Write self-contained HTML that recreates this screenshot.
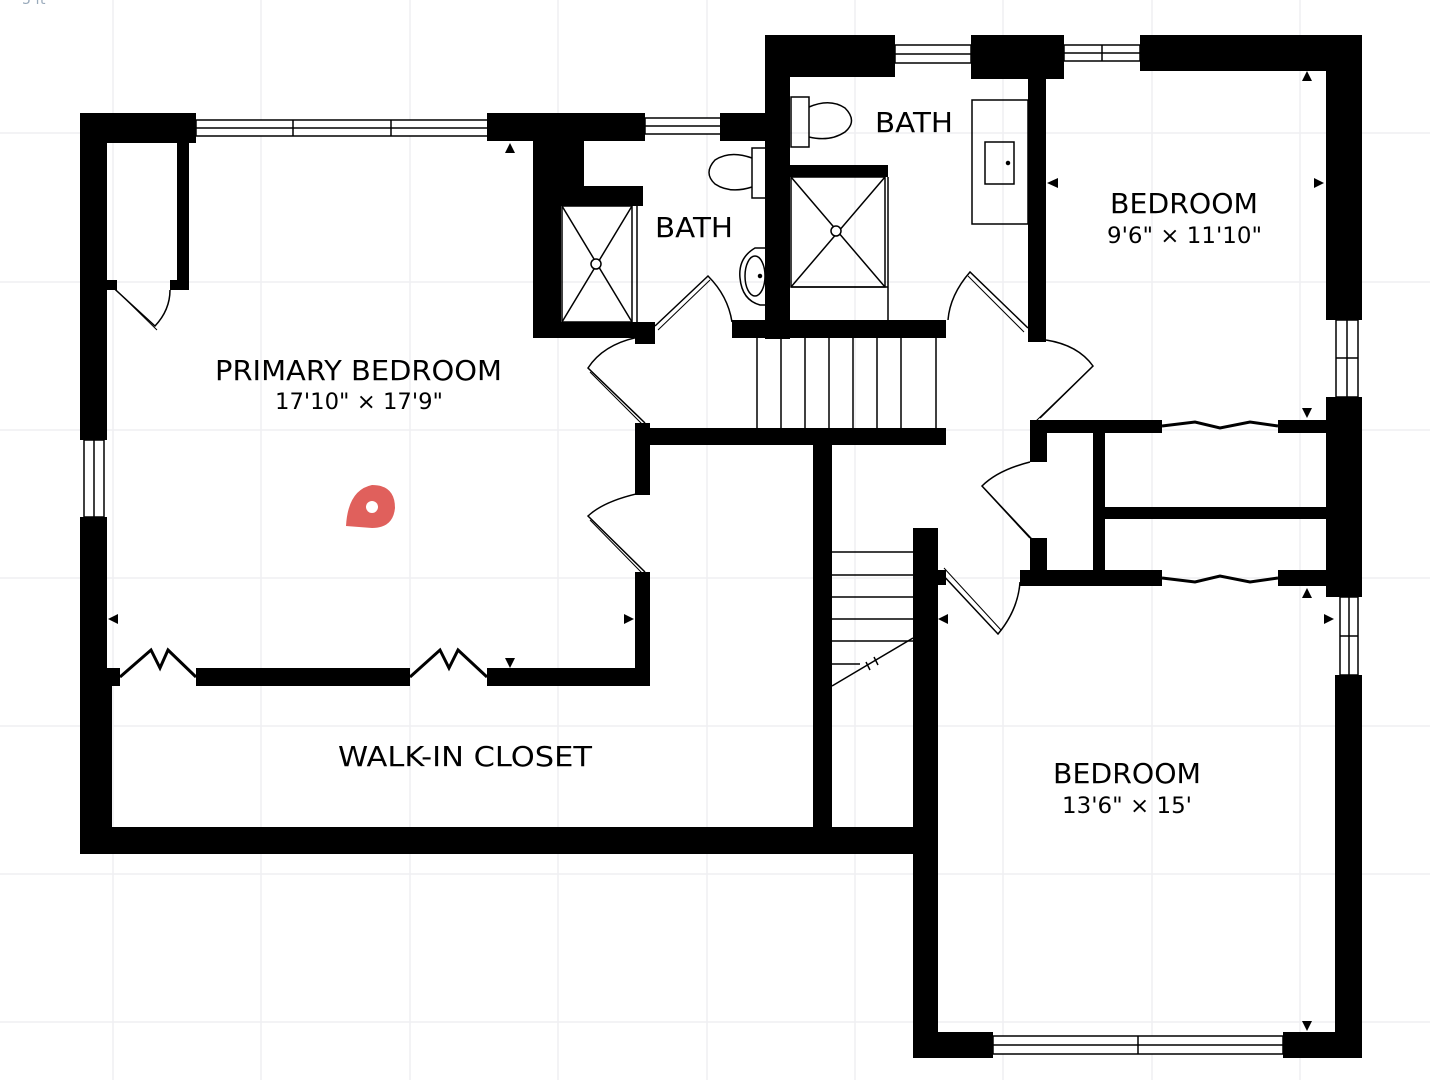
<!DOCTYPE html>
<html><head><meta charset="utf-8"><style>
html,body{margin:0;padding:0;background:#fff;}
svg{display:block;}
text{font-family:"DejaVu Sans","Liberation Sans",sans-serif;fill:#000;}
</style></head><body>
<svg width="1430" height="1080" viewBox="0 0 1430 1080" xmlns="http://www.w3.org/2000/svg">
<g stroke="#efeff2" stroke-width="1.5">
<line x1="113" y1="0" x2="113" y2="1080"/><line x1="261" y1="0" x2="261" y2="1080"/><line x1="410" y1="0" x2="410" y2="1080"/><line x1="558" y1="0" x2="558" y2="1080"/><line x1="707" y1="0" x2="707" y2="1080"/><line x1="855" y1="0" x2="855" y2="1080"/><line x1="1003" y1="0" x2="1003" y2="1080"/><line x1="1152" y1="0" x2="1152" y2="1080"/><line x1="1300" y1="0" x2="1300" y2="1080"/>
<line x1="0" y1="133" x2="1430" y2="133"/><line x1="0" y1="282" x2="1430" y2="282"/><line x1="0" y1="430" x2="1430" y2="430"/><line x1="0" y1="578" x2="1430" y2="578"/><line x1="0" y1="726" x2="1430" y2="726"/><line x1="0" y1="874" x2="1430" y2="874"/><line x1="0" y1="1022" x2="1430" y2="1022"/>
</g>
<text x="22" y="4" font-size="14" style="fill:#9ab">5 ft</text>
<g stroke="#000" stroke-width="1.5" fill="#fff">
<rect x="196" y="120" width="292" height="16"/><line x1="196" y1="128" x2="488" y2="128"/><line x1="293" y1="120" x2="293" y2="136"/><line x1="391" y1="120" x2="391" y2="136"/>
<rect x="645" y="118" width="76" height="16"/><line x1="645" y1="126" x2="721" y2="126"/>
<rect x="895" y="45" width="76" height="18"/><line x1="895" y1="54" x2="971" y2="54"/>
<rect x="1064" y="45" width="76" height="16"/><line x1="1064" y1="53" x2="1140" y2="53"/><line x1="1102" y1="45" x2="1102" y2="61"/>
<rect x="84" y="440" width="20" height="77"/><line x1="94" y1="440" x2="94" y2="517"/>
<rect x="1336" y="320" width="22" height="77"/><line x1="1347" y1="320" x2="1347" y2="397"/><line x1="1336" y1="358" x2="1358" y2="358"/>
<rect x="1340" y="597" width="18" height="78"/><line x1="1349" y1="597" x2="1349" y2="675"/><line x1="1340" y1="636" x2="1358" y2="636"/>
<rect x="993" y="1036" width="290" height="18"/><line x1="993" y1="1045" x2="1283" y2="1045"/><line x1="1138" y1="1036" x2="1138" y2="1054"/>
</g>
<g fill="#000">
<rect x="80" y="113" width="116" height="30"/>
<rect x="80" y="113" width="27" height="327"/>
<rect x="80" y="517" width="27" height="170"/>
<rect x="80" y="668" width="32" height="186"/>
<rect x="177" y="140" width="12" height="150"/><rect x="170" y="280" width="19" height="10"/>
<rect x="107" y="280" width="10" height="10"/>
<rect x="80" y="827" width="858" height="27"/>
<rect x="107" y="668" width="13" height="18"/>
<rect x="196" y="668" width="214" height="18"/>
<rect x="487" y="668" width="163" height="18"/>
<rect x="635" y="572" width="15" height="114"/>
<rect x="635" y="423" width="15" height="72"/>
<rect x="487" y="113" width="158" height="28"/>
<rect x="533" y="140" width="28" height="198"/>
<rect x="533" y="140" width="51" height="47"/>
<rect x="560" y="186" width="83" height="20"/>
<rect x="533" y="322" width="122" height="16"/>
<rect x="635" y="322" width="20" height="22"/>
<rect x="720" y="113" width="70" height="28"/>
<rect x="765" y="35" width="130" height="42"/>
<rect x="765" y="35" width="25" height="304"/>
<rect x="971" y="35" width="93" height="44"/>
<rect x="1028" y="70" width="18" height="272"/>
<rect x="1140" y="35" width="222" height="36"/>
<rect x="1326" y="35" width="36" height="285"/>
<rect x="1326" y="397" width="36" height="200"/>
<rect x="1335" y="675" width="27" height="383"/>
<rect x="790" y="165" width="98" height="12"/>
<rect x="732" y="320" width="214" height="18"/>
<rect x="635" y="428" width="311" height="17"/>
<rect x="813" y="445" width="19" height="385"/>
<rect x="913" y="528" width="25" height="530"/>
<rect x="938" y="570" width="8" height="15"/>
<rect x="913" y="1032" width="80" height="26"/>
<rect x="1283" y="1032" width="79" height="26"/>
<rect x="1030" y="420" width="17" height="42"/>
<rect x="1030" y="420" width="132" height="13"/>
<rect x="1278" y="420" width="58" height="13"/>
<rect x="1093" y="432" width="12" height="140"/>
<rect x="1105" y="507" width="231" height="12"/>
<rect x="1030" y="538" width="17" height="48"/>
<rect x="1020" y="570" width="142" height="16"/>
<rect x="1278" y="570" width="58" height="16"/>
</g>
<g stroke="#000" stroke-width="1.5" fill="none">
<rect x="562" y="206" width="70" height="116"/><line x1="562" y1="206" x2="632" y2="322"/><line x1="632" y1="206" x2="562" y2="322"/><line x1="637" y1="206" x2="637" y2="322"/>
<circle cx="596" cy="264" r="5" fill="#fff"/>
<rect x="791" y="177" width="94" height="110"/><line x1="791" y1="177" x2="885" y2="287"/><line x1="885" y1="177" x2="791" y2="287"/><line x1="791" y1="287" x2="888" y2="287"/><line x1="888" y1="177" x2="888" y2="320"/>
<circle cx="836" cy="231" r="5" fill="#fff"/>
<rect x="791" y="97" width="18" height="50"/><path d="M809 107 Q830 98 845 108 Q858 121 845 132 Q830 142 809 137"/>
<rect x="752" y="148" width="20" height="50"/><path d="M752 158 Q730 150 715 160 Q703 173 715 184 Q730 194 752 187"/>
<path d="M772 248 L755 248 Q738 258 740 278 Q742 300 760 305 L772 305"/><ellipse cx="755" cy="276" rx="10" ry="20"/><circle cx="760" cy="276" r="1.5" fill="#000"/>
<rect x="972" y="100" width="56" height="124"/><rect x="985" y="142" width="29" height="42"/><circle cx="1008" cy="163" r="1.5" fill="#000"/>
<line x1="757" y1="338" x2="757" y2="428"/><line x1="781" y1="338" x2="781" y2="428"/><line x1="805" y1="338" x2="805" y2="428"/><line x1="829" y1="338" x2="829" y2="428"/><line x1="853" y1="338" x2="853" y2="428"/><line x1="877" y1="338" x2="877" y2="428"/><line x1="901" y1="338" x2="901" y2="428"/><line x1="936" y1="338" x2="936" y2="428"/>
<line x1="832" y1="552" x2="913" y2="552"/><line x1="832" y1="575" x2="913" y2="575"/><line x1="832" y1="597" x2="913" y2="597"/><line x1="832" y1="619" x2="913" y2="619"/><line x1="832" y1="641" x2="913" y2="641"/><line x1="832" y1="664" x2="860" y2="664"/>
<line x1="832" y1="686" x2="913" y2="638"/><line x1="866" y1="662" x2="870" y2="670"/><line x1="874" y1="657" x2="878" y2="665"/>
<path d="M107 282 L155 326 Q170 310 170 290"/>
<path d="M112 286 L157 330" stroke-width="1"/>
<path d="M645 336 Q605 342 588 368 L645 423"/><path d="M590 372 L643 425" stroke-width="1"/>
<path d="M645 492 Q605 500 588 516 L645 572"/><path d="M590 520 L643 574" stroke-width="1"/>
<path d="M655 326 L708 276 Q728 296 732 322"/><path d="M658 330 L710 280" stroke-width="1"/>
<path d="M1028 328 L970 272 Q950 295 948 320"/><path d="M1024 332 L968 276" stroke-width="1"/>
<path d="M1046 340 Q1078 345 1093 366 L1040 418"/><path d="M1090 369 L1036 421" stroke-width="1"/>
<path d="M1030 462 Q998 470 982 486 L1030 538"/><path d="M985 489 L1033 540" stroke-width="1"/>
<path d="M940 572 L998 634 Q1018 610 1020 582"/><path d="M944 568 L1001 630" stroke-width="1"/>
<path d="M120 677 L151 650 L160 668 L168 650 L196 677" stroke-width="3"/>
<path d="M410 677 L440 650 L449 668 L458 650 L487 677" stroke-width="3"/>
<path d="M1162 426 L1195 422 L1220 428 L1250 422 L1278 426" stroke-width="3"/>
<path d="M1162 578 L1195 582 L1220 576 L1250 582 L1278 578" stroke-width="3"/>
</g>
<g fill="#000">
<polygon points="505,153 515,153 510,143"/>
<polygon points="505,658 515,658 510,668"/>
<polygon points="118,614 118,624 108,619"/>
<polygon points="624,614 624,624 634,619"/>
<polygon points="1058,178 1058,188 1047,183"/>
<polygon points="1314,178 1314,188 1324,183"/>
<polygon points="1302,81 1312,81 1307,71"/>
<polygon points="1302,408 1312,408 1307,418"/>
<polygon points="1302,598 1312,598 1307,588"/>
<polygon points="1324,614 1324,624 1334,619"/>
<polygon points="948,614 948,624 938,619"/>
<polygon points="1302,1021 1312,1021 1307,1031"/>
</g>
<path d="M346 526 Q348 490 372 485 Q395 485 395 508 Q393 528 372 528 Z" fill="#e0605c"/>
<circle cx="372" cy="507" r="6" fill="#fff"/>
<text x="215" y="380" font-size="28" textLength="287" lengthAdjust="spacingAndGlyphs">PRIMARY BEDROOM</text>
<text x="275" y="409" font-size="22" textLength="168" lengthAdjust="spacingAndGlyphs">17'10" × 17'9"</text>
<text x="655" y="237" font-size="28" textLength="78" lengthAdjust="spacingAndGlyphs">BATH</text>
<text x="875" y="132" font-size="28" textLength="78" lengthAdjust="spacingAndGlyphs">BATH</text>
<text x="1110" y="213" font-size="28" textLength="148" lengthAdjust="spacingAndGlyphs">BEDROOM</text>
<text x="1107" y="243" font-size="22" textLength="155" lengthAdjust="spacingAndGlyphs">9'6" × 11'10"</text>
<text x="338" y="766" font-size="28" textLength="254" lengthAdjust="spacingAndGlyphs">WALK-IN CLOSET</text>
<text x="1053" y="783" font-size="28" textLength="148" lengthAdjust="spacingAndGlyphs">BEDROOM</text>
<text x="1062" y="813" font-size="22" textLength="130" lengthAdjust="spacingAndGlyphs">13'6" × 15'</text>
</svg>
</body></html>
